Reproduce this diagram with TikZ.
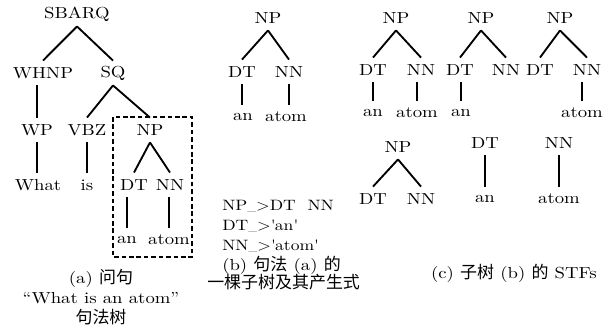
\documentclass[tikz,border=0pt]{standalone}
\usepackage{fontspec}
\setmainfont{lmroman10-regular.otf}[FakeStretch=1.17]
\newfontfamily\cjk{Noto Sans CJK SC}[Scale=1.06]
\usepackage{tikz}

\begin{document}
\begin{tikzpicture}[x=0.7pt,y=-0.7pt,
  cat/.style={inner sep=0pt,minimum height=17pt,font=\fontsize{11.2}{12}\selectfont},
  branch/.style={line width=1.3pt},
  dashbox/.style={line width=1.1pt,dash pattern=on 3.2pt off 2pt},
  subcap/.style={inner sep=0pt,align=center,font=\fontsize{11.2}{14}\selectfont}
]
  \useasboundingbox (0,0) rectangle (611,334);
  % (a) full parse tree
  \node[cat] (sbarq) at (77,14) {SBARQ};
  \node[cat] (whnp) at (43,73) {WHNP};
  \node[cat] (sq) at (113,73) {SQ};
  \node[cat] (wp) at (37,130) {WP};
  \node[cat] (vbz) at (87,130) {VBZ};
  \node[cat] (np) at (150,130) {NP};
  \node[cat] (what) at (38,185) {What};
  \node[cat] (is) at (87,185) {is};
  \node[cat] (dt) at (134,185) {DT};
  \node[cat] (nn) at (170,185) {NN};
  \node[cat] (an) at (127,240) {an};
  \node[cat] (atom) at (169,240) {atom};
  \draw[branch] (sbarq.south) -- (whnp.north);
  \draw[branch] (sbarq.south) -- (sq.north);
  \draw[branch] (wp.north |- whnp.south) -- (wp.north);
  \draw[branch] (sq.south) -- (vbz.north);
  \draw[branch] (sq.south) -- (np.north);
  \draw[branch] (wp.south) -- (wp.south |- what.north);
  \draw[branch] (vbz.south) -- (vbz.south |- is.north);
  \draw[branch] (np.south) -- (dt.north);
  \draw[branch] (np.south) -- (nn.north);
  \draw[branch] (an.north |- dt.south) -- (an.north);
  \draw[branch] (atom.north |- nn.south) -- (atom.north);
  \draw[dashbox] (113,117) rectangle (192,257);
  \node[subcap] (capa) at (101,297) {(a) {\cjk 问句}\\“What is an atom”\\{\cjk 句法树}};

  % (b) subtree and its rules
  \node[cat] (npb) at (268,18) {NP};
  \node[cat] (dtb) at (242,72) {DT};
  \node[cat] (nnb) at (289,72) {NN};
  \node[cat] (anb) at (243,117) {an};
  \node[cat] (atomb) at (286,117) {atom};
  \draw[branch] (npb.south) -- (dtb.north);
  \draw[branch] (npb.south) -- (nnb.north);
  \draw[branch] (dtb.south) -- (dtb.south |- anb.north);
  \draw[branch] (nnb.south) -- (nnb.south |- atomb.north);
  \node[subcap,align=left,anchor=west,font=\fontsize{10.5}{13.7}\selectfont] (rules) at (222,226)
    {NP{\scriptsize\_}>DT\ \ NN\\DT{\scriptsize\_}>\textquotesingle an\textquotesingle\\NN{\scriptsize\_}>\textquotesingle atom\textquotesingle};
  \node[subcap,align=left,anchor=north west,font=\fontsize{11.2}{12.8}\selectfont] (capb) at (207,256)
    {\hspace*{10.5pt}(b) {\cjk 句法} (a) {\cjk 的}\\{\cjk 一棵子树及其产生式}};

  % (c) STFs of subtree (b)
  \node[cat] (np1) at (396,18) {NP};
  \node[cat] (dt1) at (373,70) {DT};
  \node[cat] (nn1) at (421,70) {NN};
  \node[cat] (an1) at (373,113) {an};
  \node[cat] (atom1) at (417,113) {atom};
  \draw[branch] (np1.south) -- (dt1.north);
  \draw[branch] (np1.south) -- (nn1.north);
  \draw[branch] (dt1.south) -- (dt1.south |- an1.north);
  \draw[branch] (atom1.north |- nn1.south) -- (atom1.north);

  \node[cat] (np2) at (481,18) {NP};
  \node[cat] (dt2) at (460,70) {DT};
  \node[cat] (nn2) at (506,70) {NN};
  \node[cat] (an2) at (461,113) {an};
  \draw[branch] (np2.south) -- (dt2.north);
  \draw[branch] (np2.south) -- (nn2.north);
  \draw[branch] (an2.north |- dt2.south) -- (an2.north);

  \node[cat] (np3) at (560,18) {NP};
  \node[cat] (dt3) at (540,70) {DT};
  \node[cat] (nn3) at (587,70) {NN};
  \node[cat] (atom3) at (582,113) {atom};
  \draw[branch] (np3.south) -- (dt3.north);
  \draw[branch] (np3.south) -- (nn3.north);
  \draw[branch] (atom3.north |- nn3.south) -- (atom3.north);

  \node[cat] (np4) at (398,147) {NP};
  \node[cat] (dt4) at (373,199) {DT};
  \node[cat] (nn4) at (421,199) {NN};
  \draw[branch] (np4.south) -- (dt4.north);
  \draw[branch] (np4.south) -- (nn4.north);

  \node[cat] (dt5) at (485,143) {DT};
  \node[cat] (an5) at (485,199) {an};
  \draw[branch] (dt5.south) -- (an5.north);

  \node[cat] (nn6) at (559,143) {NN};
  \node[cat] (atom6) at (559,199) {atom};
  \draw[branch] (nn6.south) -- (atom6.north);

  \node[subcap,anchor=east] (capc) at (597,273) {(c) {\cjk 子树} (b) {\cjk 的} STFs};
\end{tikzpicture}
\end{document}
